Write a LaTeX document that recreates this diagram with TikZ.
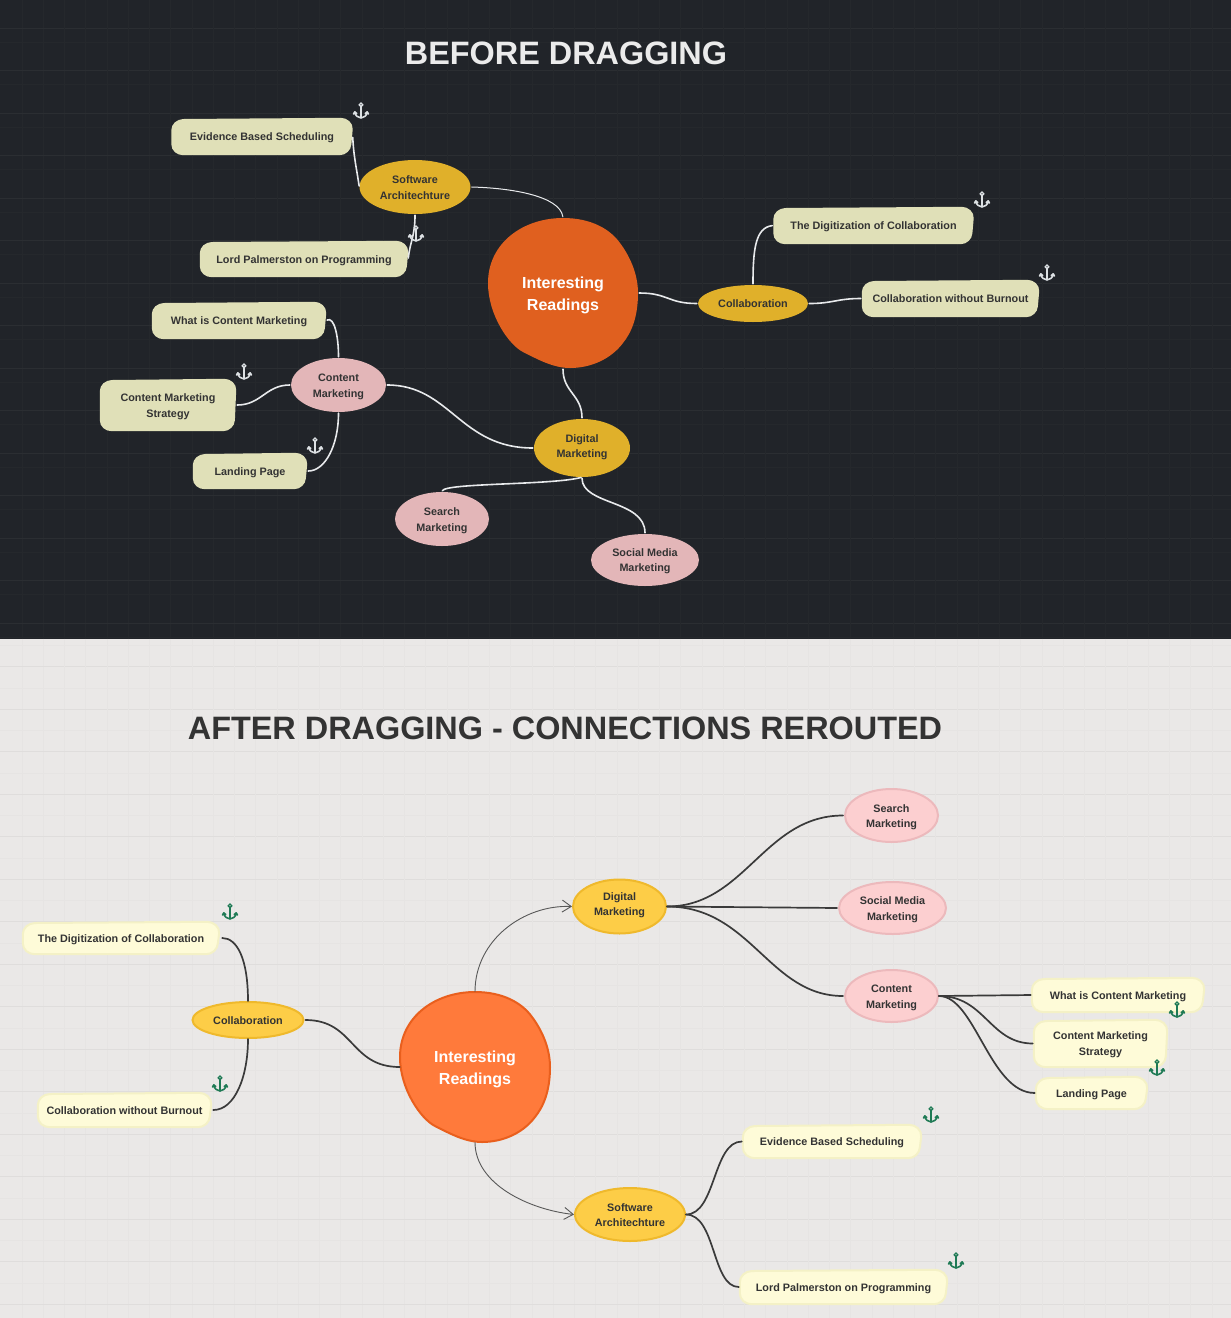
\documentclass[tikz,border=0pt]{standalone}
\usepackage{fontspec}
\setmainfont{Liberation Sans}
\usetikzlibrary{shapes.geometric,calc,arrows.meta}
\pgfdeclarelayer{backdrop}\pgfdeclarelayer{cardlayer}
\pgfsetlayers{backdrop,cardlayer,main}
\definecolor{bgD}{HTML}{212429}\definecolor{gridDa}{HTML}{2B2E32}\definecolor{gridDb}{HTML}{25282C}
\definecolor{bgL}{HTML}{EAE8E7}\definecolor{gridLa}{HTML}{DFDDDC}\definecolor{gridLb}{HTML}{E6E4E3}
\definecolor{cardD}{HTML}{E0E0B8}
\definecolor{cardL}{HTML}{FEFBD8}\definecolor{cardLb}{HTML}{F4F1C6}
\definecolor{pinkD}{HTML}{E3B6B8}
\definecolor{pinkL}{HTML}{FCCFD0}\definecolor{pinkLb}{HTML}{ECB9BC}
\definecolor{yelD}{HTML}{E0B02A}
\definecolor{yelL}{HTML}{FDCD47}\definecolor{yelLb}{HTML}{EFB92C}
\definecolor{orgD}{HTML}{E0601F}
\definecolor{orgL}{HTML}{FF7A3B}\definecolor{orgLb}{HTML}{E95F1D}
\definecolor{inkT}{HTML}{333333}
\definecolor{linkD}{HTML}{E8EAEC}\definecolor{linkL}{HTML}{3A3A3A}
\definecolor{ancD}{HTML}{DDE1E4}\definecolor{ancL}{HTML}{1F7A55}
\newcommand{\topS}{\rule{0pt}{10.5pt}}
\newcommand{\botS}{\rule[-2.5pt]{0pt}{0pt}}
\newcommand{\blobT}{\rule{0pt}{17pt}}
\newcommand{\blobB}{\rule[-3.6pt]{0pt}{0pt}}
\tikzset{
  lab/.style={font=\fontsize{10.8}{16}\selectfont\bfseries,text=inkT,align=center,inner sep=0pt},
  blobtxt/.style={font=\fontsize{16}{22}\selectfont\bfseries,text=white,align=center,inner sep=0pt,circle,minimum size=150pt},
  oval/.style={lab,ellipse,minimum width=#1},
  boxlab/.style={lab,rectangle},
  bigtitle/.style={font=\fontsize{32.4}{36}\selectfont\bfseries,inner sep=0pt},
  linkDark/.style={draw=linkD,line width=1.6pt,line cap=round,shorten >=1pt,shorten <=1pt},
  linkDarkThin/.style={draw=linkD,line width=1pt,line cap=round,shorten >=1pt,shorten <=1pt},
  linkLight/.style={draw=linkL,line width=1.7pt,line cap=round,shorten >=1pt},
  linkArrow/.style={draw=linkL!85,line width=.9pt,-{Straight Barb[length=9pt,width=12pt,line width=.9pt]}},
  anchoricon/.pic={
    \draw[#1,line width=1.6pt,line cap=round,line join=round]
      (0,-4.5) -- (0,7)
      (-6.2,1) .. controls (-5.8,4.8) and (-3,6.6) .. (0,7) .. controls (3,6.6) and (5.8,4.8) .. (6.2,1)
      (-7.5,3) -- (-6.2,.8) -- (-4.2,2.6)
      (7.5,3) -- (6.2,.8) -- (4.2,2.6);
    \draw[#1,line width=1.3pt] (0,-6.2) circle (1.8pt);
  }
}
% wobbly card behind a named label node: name, centre, width, height, fill options, text
\newcommand{\wobblecard}[6]{%
  \node[boxlab,minimum width=#3pt,minimum height=#4pt] (#1) at #2 {\topS #6\botS};
  \begin{pgfonlayer}{cardlayer}
  \path[#5]
    ($(#1.north west)+(0,12.5)$) .. controls ($(#1.north west)+(0,6)$) and ($(#1.north west)+(5.5,1.5)$) .. ($(#1.north west)+(12,1.2)$)
    -- ($(#1.north east)+(-12,0)$) .. controls ($(#1.north east)+(-5.5,0)$) and ($(#1.north east)+(.4,5)$) .. ($(#1.north east)+(0,11.5)$)
    -- ($(#1.south east)+(-1.3,-11)$) .. controls ($(#1.south east)+(-1.6,-5)$) and ($(#1.south east)+(-7,0)$) .. ($(#1.south east)+(-13,0)$)
    -- ($(#1.south west)+(12,0)$) .. controls ($(#1.south west)+(5.5,0)$) and ($(#1.south west)+(0,-4.5)$) .. ($(#1.south west)+(0,-11)$) -- cycle;
  \end{pgfonlayer}}
% organic main blob at the centre of a named node
\newcommand{\mainblob}[2]{%
  \begin{pgfonlayer}{cardlayer}
  \begin{scope}[shift={#1}]
  \path[#2] (0,-75) .. controls (28,-75) and (47,-64) .. (57,-50)
    .. controls (66,-38) and (75,-20) .. (75,0)
    .. controls (75,25) and (68,40) .. (60,50)
    .. controls (48,66) and (28,75) .. (7,75)
    .. controls (-10,75) and (-26,66) .. (-40,59)
    .. controls (-54,52) and (-75,22) .. (-75,-10)
    .. controls (-75,-50) and (-40,-75) .. (0,-75) -- cycle;
  \end{scope}
  \end{pgfonlayer}}
\begin{document}
\begin{tikzpicture}[x=1pt,y=-1pt]
\useasboundingbox (0,0) rectangle (1231,1318);
\begin{pgfonlayer}{backdrop}
  \fill[bgD] (0,0) rectangle (1231,639);
  \fill[bgL] (0,639) rectangle (1231,1318);
  \begin{scope}
    \clip (0,0) rectangle (1231,639);
    \foreach \n in {0,...,29} {
      \draw[gridDb,line width=.7pt] ({22+42.5*\n},0) -- ++(0,639);
      \draw[gridDb,line width=.7pt] (0,{-.5+42.5*\n}) -- ++(1231,0);
      \draw[gridDb,line width=1pt] ({43+42.5*\n},0) -- ++(0,639);
      \draw[gridDa,line width=.9pt] (0,{28+42.5*\n}) -- ++(1231,0);
    }
  \end{scope}
  \begin{scope}
    \clip (0,639) rectangle (1231,1318);
    \foreach \n in {0,...,29} {
      \draw[gridLb,line width=.7pt] ({22+42.5*\n},639) -- ++(0,679);
      \draw[gridLb,line width=.7pt] (0,{645.5+42.5*\n}) -- ++(1231,0);
      \draw[gridLb,line width=1pt] ({43+42.5*\n},639) -- ++(0,679);
      \draw[gridLa,line width=.9pt] (0,{666.7+42.5*\n}) -- ++(1231,0);
    }
  \end{scope}
\end{pgfonlayer}

\node[bigtitle,text=white!92!black] (titleA) at (566,53) {BEFORE DRAGGING};
\node[bigtitle,text=inkT] (titleB) at (565,728) {AFTER DRAGGING - CONNECTIONS REROUTED};

% ---------- BEFORE ----------
\node[blobtxt] (c1) at (563,293) {\blobT Interesting\\Readings\blobB};
\mainblob{(563,293)}{fill=orgD}
\tikzset{ovD/.style={oval=#1,fill=yelD}, pkD/.style={oval=#1,fill=pinkD}}
\node[ovD=111pt,minimum height=54pt] (soft1) at (415,187) {\topS Software\\Architechture\botS};
\node[ovD=110pt,minimum height=37pt] (coll1) at (753,303.5) {\topS Collaboration\botS};
\node[ovD=96pt,minimum height=58pt] (digi1) at (582,448) {\topS Digital\\[-1pt]Marketing\rule[-7pt]{0pt}{0pt}};
\node[pkD=95pt,minimum height=54pt] (cont1) at (338.5,385) {\topS Content\\Marketing\botS};
\node[pkD=94pt,minimum height=54pt] (sear1) at (442,519) {\topS Search\\Marketing\botS};
\node[pkD=108pt,minimum height=52pt] (soci1) at (645,560) {\topS Social Media\\[-1pt]Marketing\botS};

\wobblecard{evid1}{(262,136.5)}{181}{37}{fill=cardD}{Evidence Based Scheduling}
\wobblecard{lord1}{(304,259)}{208}{36}{fill=cardD}{Lord Palmerston on Programming}
\wobblecard{what1}{(239,320.5)}{174}{37}{fill=cardD}{What is Content Marketing}
\wobblecard{stra1}{(168,405)}{136}{52}{fill=cardD}{Content Marketing\\Strategy}
\wobblecard{land1}{(250,471)}{114}{36}{fill=cardD}{Landing Page}
\wobblecard{digt1}{(873.5,225.5)}{200}{37}{fill=cardD}{The Digitization of Collaboration}
\wobblecard{cwob1}{(950.5,298.5)}{177}{37}{fill=cardD}{Collaboration without Burnout}

\draw[linkDarkThin] (soft1.east) .. controls +(40,1) and +(-3,-22) .. (c1.north);
\draw[linkDark] (soft1.west) .. controls +(-3,-20) and +(1,20) .. (evid1.east);
\draw[linkDark] (soft1.south) .. controls +(0,22) and +(2,-18) .. (lord1.east);
\draw[linkDark] (c1.east) .. controls +(30,0) and +(-30,0) .. (coll1.west);
\draw[linkDark] (coll1.north) .. controls +(0,-35) and +(-18,2) .. (digt1.west);
\draw[linkDark] (coll1.east) .. controls +(25,0) and +(-25,0) .. (cwob1.west);
\draw[linkDark] (c1.south) .. controls +(0,24) and +(0,-24) .. (digi1.north);
\draw[linkDark] (cont1.east) .. controls +(64,0) and +(-74,0) .. (digi1.west);
\draw[linkDark] (cont1.north) .. controls +(0,-22) and +(8,-4) .. (what1.east);
\draw[linkDark] (cont1.west) .. controls +(-25,0) and +(25,0) .. (stra1.east);
\draw[linkDark] (cont1.south) .. controls +(0,33) and +(18,0) .. (land1.east);
\draw[linkDark] (digi1.south) .. controls +(-30,8) and +(3,-9) .. (sear1.north);
\draw[linkDark] (digi1.south) .. controls +(0,28) and +(0,-34) .. (soci1.north);

\pic at (361,111) {anchoricon=ancD};
\pic at (416,234) {anchoricon=ancD};
\pic at (982,200) {anchoricon=ancD};
\pic at (1047,273) {anchoricon=ancD};
\pic at (244,372) {anchoricon=ancD};
\pic at (315,446) {anchoricon=ancD};

% ---------- AFTER ----------
\node[blobtxt] (c2) at (475,1067) {\blobT Interesting\\Readings\blobB};
\mainblob{(475,1067)}{fill=orgL,draw=orgLb,line width=2pt}
\tikzset{ovL/.style={oval=#1,fill=yelL,draw=yelLb,line width=2pt}, pkL/.style={oval=#1,fill=pinkL,draw=pinkLb,line width=2pt}}
\node[ovL=93pt,minimum height=54pt] (digi2) at (619.5,906.5) {\topS Digital\\[-1pt]Marketing\rule[-7pt]{0pt}{0pt}};
\node[ovL=110pt,minimum height=53pt] (soft2) at (630,1214.5) {\topS Software\\[-1pt]Architechture\botS};
\node[ovL=111pt,minimum height=36pt] (coll2) at (248,1020) {\topS Collaboration\botS};
\node[pkL=93pt,minimum height=53pt] (sear2) at (891.5,815.5) {\topS Search\\[-1pt]Marketing\botS};
\node[pkL=107pt,minimum height=52pt] (soci2) at (892.5,908) {\topS Social Media\\Marketing\botS};
\node[pkL=93pt,minimum height=52pt] (cont2) at (891.5,996) {\topS Content\\Marketing\botS};

\tikzset{cardLt/.style={fill=cardL,draw=cardLb,line width=2pt}}
\wobblecard{digt2}{(121,938)}{196}{32}{cardLt}{The Digitization of Collaboration}
\wobblecard{cwob2}{(124.5,1110)}{173}{34}{cardLt}{Collaboration without Burnout}
\wobblecard{what2}{(1118,995)}{172}{34}{cardLt}{What is Content Marketing}
\wobblecard{stra2}{(1100.5,1043.5)}{133}{47}{cardLt}{Content Marketing\\Strategy}
\wobblecard{land2}{(1091.5,1093)}{111}{32}{cardLt}{Landing Page}
\wobblecard{evid2}{(832,1141.5)}{178}{33}{cardLt}{Evidence Based Scheduling}
\wobblecard{lord2}{(843.5,1287)}{207}{34}{cardLt}{Lord Palmerston on Programming}

\draw[linkArrow] (c2.north) .. controls +(0,-52) and +(-48,-2) .. (digi2.west);
\draw[linkArrow] (c2.south) .. controls +(0,42) and +(-45,-5) .. (soft2.west);
\draw[linkLight] (c2.west) .. controls +(-50,0) and +(50,0) .. (coll2.east);
\draw[linkLight,shorten >=3pt] (coll2.north) .. controls +(0,-42) and +(18,0) .. (digt2.east);
\draw[linkLight,shorten >=2pt] (coll2.south) .. controls +(0,37) and +(24,0) .. (cwob2.east);
\draw[linkLight] (digi2.east) .. controls +(78,0) and +(-80,0) .. (sear2.west);
\draw[linkLight] (digi2.east) -- (soci2.west);
\draw[linkLight] (digi2.east) .. controls +(84,0) and +(-75,0) .. (cont2.west);
\draw[linkLight] (cont2.east) -- (what2.west);
\draw[linkLight] (cont2.east) .. controls +(46,0) and +(-44,0) .. (stra2.west);
\draw[linkLight] (cont2.east) .. controls +(36,0) and +(-46,0) .. (land2.west);
\draw[linkLight] (soft2.east) .. controls +(30,0) and +(-30,0) .. (evid2.west);
\draw[linkLight] (soft2.east) .. controls +(30,0) and +(-28,0) .. (lord2.west);

\pic at (230,912) {anchoricon=ancL};
\pic at (220,1084) {anchoricon=ancL};
\pic at (1177,1010) {anchoricon=ancL};
\pic at (1157,1068) {anchoricon=ancL};
\pic at (931,1115) {anchoricon=ancL};
\pic at (956,1261) {anchoricon=ancL};
\end{tikzpicture}
\end{document}
